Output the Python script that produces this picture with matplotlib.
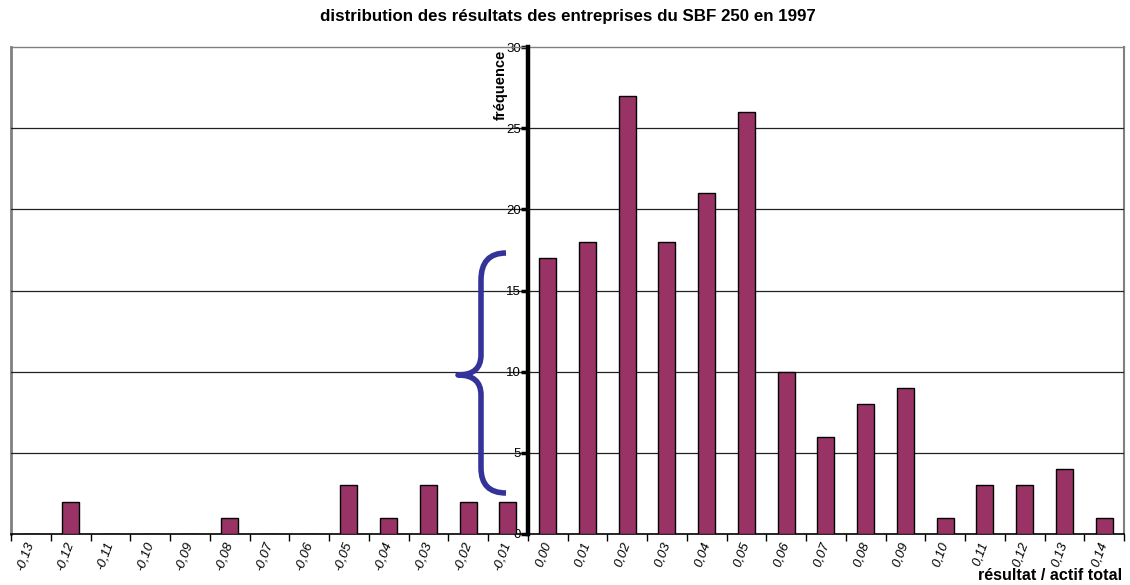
import matplotlib
matplotlib.use("Agg")
import matplotlib.pyplot as plt
from matplotlib.path import Path
from matplotlib.patches import PathPatch
from matplotlib.ticker import FixedLocator
import matplotlib.transforms as mtransforms
import numpy as np

plt.rcParams['font.family'] = ['Liberation Sans', 'DejaVu Sans']

categories = ["-0,13", "-0,12", "-0,11", "-0,10", "-0,09", "-0,08", "-0,07",
              "-0,06", "-0,05", "-0,04", "-0,03", "-0,02", "-0,01",
              "0,00", "0,01", "0,02", "0,03", "0,04", "0,05", "0,06", "0,07",
              "0,08", "0,09", "0,10", "0,11", "0,12", "0,13", "0,14"]
frequencies = [0, 2, 0, 0, 0, 1, 0, 0, 3, 1, 3, 2, 2,
               17, 18, 27, 18, 21, 26, 10, 6, 8, 9, 1, 3, 3, 4, 1]
y_ticks = [0, 5, 10, 15, 20, 25, 30]

title = "distribution des résultats des entreprises du SBF 250 en 1997"
x_label = "résultat / actif total"
y_label = "fréquence"

fig = plt.figure(figsize=(11.3, 5.85), dpi=100)
ax = fig.add_axes([11/1130, 1 - 534/585, 1113/1130, 487/585])

x = np.arange(len(categories))
ax.bar(x, frequencies, width=0.43, color="#993366", edgecolor="black",
       linewidth=1.0, zorder=3)

n = len(categories)
ax.set_xlim(-0.5, n - 0.5)
ax.set_ylim(0, 30)

# y axis at boundary between -0,01 and 0,00
zero_idx = categories.index("0,00")
ax.spines['left'].set_position(('data', zero_idx - 0.5))
ax.spines['left'].set_linewidth(3.2)
ax.spines['left'].set_color('black')
ax.spines['left'].set_zorder(5)
ax.spines['right'].set_visible(False)
ax.spines['top'].set_color('#808080')
ax.spines['top'].set_linewidth(1.0)
ax.spines['bottom'].set_color('black')
ax.spines['bottom'].set_linewidth(1.2)

# frame borders left/right in gray
ax.axvline(-0.5, color='#808080', lw=2.0, zorder=1, clip_on=False)
ax.axvline(n - 0.5, color='#808080', lw=1.5, zorder=1, clip_on=False)

# gridlines
for t in y_ticks[1:-1]:
    ax.axhline(t, color='#222222', lw=0.9, zorder=1)

ax.set_yticks(y_ticks)
ax.set_yticklabels([str(t) for t in y_ticks], fontsize=9.5)
ax.tick_params(axis='y', direction='out', length=5, width=2.5, pad=0,
               colors='black')

# x ticks: labels at centers, marks at boundaries
ax.set_xticks(x)
ax.set_xticklabels(categories, fontsize=9.5, rotation=70, ha='right',
                   va='center', rotation_mode='anchor', style='italic')
ax.tick_params(axis='x', which='major', length=0, pad=6)
ax.xaxis.set_minor_locator(FixedLocator(np.arange(-0.5, n, 1.0)))
ax.tick_params(axis='x', which='minor', length=5, width=1.0, direction='out')

# y label near top of axis
offset = mtransforms.ScaledTranslation(-20/100, -3/100, fig.dpi_scale_trans)
ax.text(zero_idx - 0.5, 30, y_label, rotation=90, ha='right', va='top',
        fontsize=10.5, fontweight='bold',
        transform=ax.transData + offset)

fig.text(568/1130, 1 - 17/585, title, ha='center', va='center',
         fontsize=12.2, fontweight='bold')
fig.text(1122/1130, 1 - 576/585, x_label, ha='right', va='center',
         fontsize=11.6, fontweight='bold')

# curly brace annotation (pixel coords in figure)
def px(xp, yp):
    return (xp / 1130, 1 - yp / 585)

verts = [px(506, 253), px(481, 253), px(481, 280),
         px(481, 355),
         px(481, 375), px(458, 375),
         px(481, 375), px(481, 395),
         px(481, 468),
         px(481, 493), px(506, 493)]
codes = [Path.MOVETO, Path.CURVE3, Path.CURVE3,
         Path.LINETO,
         Path.CURVE3, Path.CURVE3,
         Path.CURVE3, Path.CURVE3,
         Path.LINETO,
         Path.CURVE3, Path.CURVE3]
brace = PathPatch(Path(verts, codes), facecolor='none', edgecolor='#333399',
                  lw=4.0, transform=fig.transFigure, zorder=10,
                  capstyle='butt', joinstyle='round')
fig.add_artist(brace)

fig.savefig("out.png", dpi=100)
